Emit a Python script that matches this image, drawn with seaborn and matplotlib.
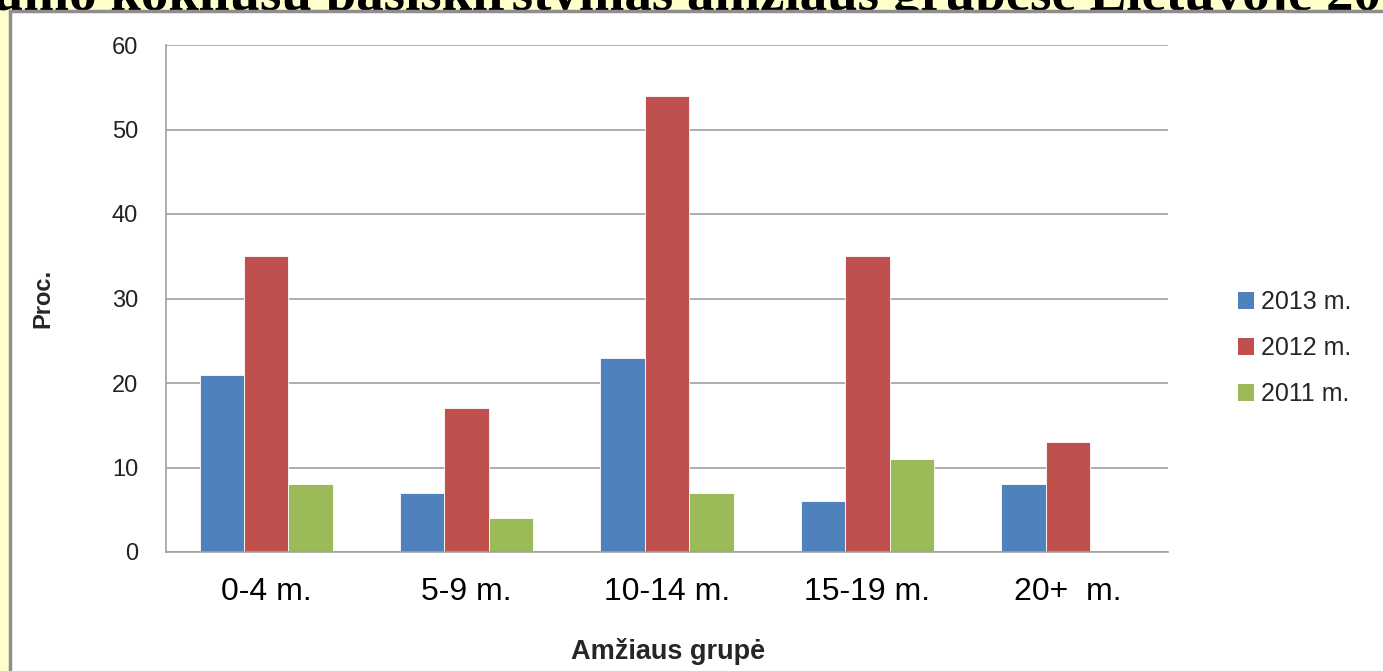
import matplotlib
matplotlib.use("Agg")
import matplotlib.pyplot as plt
from matplotlib.patches import Rectangle
import pandas as pd
import seaborn as sns

# data
groups = ["0-4 m.", "5-9 m.", "10-14 m.", "15-19 m.", "20+  m."]
years = ["2013 m.", "2012 m.", "2011 m."]
vals_2013 = [21, 7, 23, 6, 8]
vals_2012 = [35, 17, 54, 35, 13]
vals_2011 = [8, 4, 7, 11, 0]
colors = ["#4F81BD", "#C0504D", "#9BBB59"]

title = "Sergamumo kokliušu pasiskirstymas amžiaus grupėse Lietuvoje 2011–2013 m."

df = pd.DataFrame({
    "grupe": groups * 3,
    "metai": [years[0]] * 5 + [years[1]] * 5 + [years[2]] * 5,
    "proc": vals_2013 + vals_2012 + vals_2011,
})

sns.set_style("white")
plt.rcParams["font.family"] = ["Liberation Sans", "DejaVu Sans"]

W, H = 1383, 671
fig = plt.figure(figsize=(W / 100, H / 100), dpi=100, facecolor="#FFFFCC")

# slide title, mostly hidden behind the chart panel
fig.text(-0.135, 1 - 10 / H, title, family="Liberation Serif", weight="bold",
         fontsize=39.5, va="baseline", ha="left", color="black", zorder=-20)

# white chart panel with grey shadow edge on left/top
fig.patches.append(Rectangle((9.5 / W, -0.05), 1.1, 1 - 11 / H + 0.05,
                             transform=fig.transFigure, facecolor="white",
                             edgecolor="#8E8E8E", linewidth=2.5, zorder=-10))

ax = fig.add_axes([166 / W, 1 - 552 / H, 1002 / W, 507 / H])
ax.set_facecolor("white")

sns.barplot(data=df, x="grupe", y="proc", hue="metai", hue_order=years,
            palette=colors, width=0.665, gap=0, edgecolor="white",
            linewidth=0.6, saturation=1, ax=ax, legend=True)

ax.set_ylim(0, 60)
ax.set_yticks(range(0, 61, 10))
ax.grid(axis="y", color="#A0A0A0", linewidth=1.2)
ax.set_axisbelow(True)
for side in ["top", "right"]:
    ax.spines[side].set_visible(False)
for side in ["left", "bottom"]:
    ax.spines[side].set_color("#A0A0A0")
    ax.spines[side].set_linewidth(1.2)

ax.tick_params(axis="y", length=7, width=1.2, color="#A0A0A0", pad=13,
               labelsize=17, labelcolor="#222222")
ax.tick_params(axis="x", length=0, pad=18, labelsize=23, labelcolor="black")

ax.set_ylabel("Proc.", fontsize=17, weight="bold")
ax.yaxis.set_label_coords(-0.111, 0.5)
ax.set_xlabel("Amžiaus grupė", fontsize=19.5, weight="bold")
ax.xaxis.set_label_coords(0.501, -0.17)

leg = ax.legend(loc="center left", bbox_to_anchor=(1225 / W, 1 - 348 / H),
                bbox_transform=fig.transFigure, frameon=False, fontsize=18,
                handlelength=0.65, handleheight=0.65, handletextpad=0.3,
                labelspacing=0.88, borderpad=0)
for h in leg.legend_handles:
    h.set_edgecolor("none")

fig.savefig("out.png", dpi=100, facecolor=fig.get_facecolor())
